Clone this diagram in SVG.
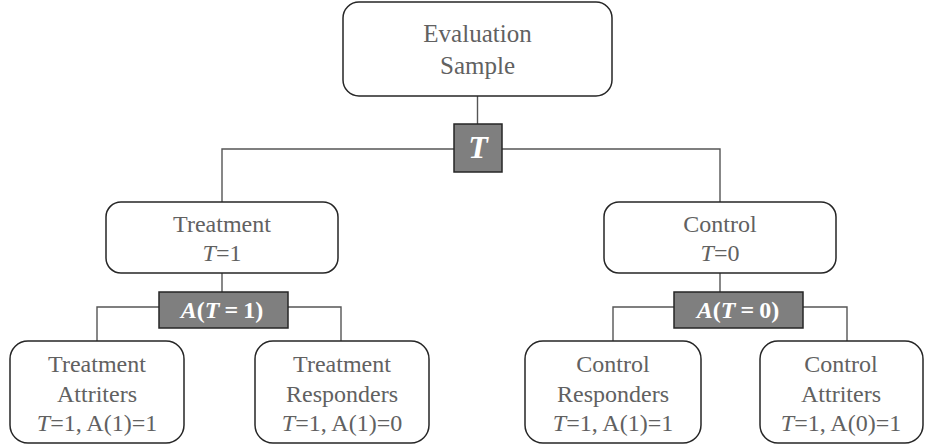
<svg xmlns="http://www.w3.org/2000/svg" width="925" height="448" viewBox="0 0 925 448">
<style>
.box{fill:#fff;stroke:#262626;stroke-width:1.5}
.gbox{fill:#7f7f7f;stroke:#262626;stroke-width:1.5}
.lbl{font-family:"Liberation Serif",serif;fill:#616161;text-anchor:middle;font-size:24px}
.big{font-size:25px}
.math{font-family:"Liberation Serif",serif;fill:#fff;font-weight:bold;text-anchor:middle}
.conn{fill:none;stroke:#555;stroke-width:1.4}
</style>
<rect width="925" height="448" fill="#fff"/>
<g id="connectors">
<path class="conn" d="M477.5 96V124"/>
<path class="conn" d="M222 202V149H454"/>
<path class="conn" d="M502 149H720V202"/>
<path class="conn" d="M222 273V292"/>
<path class="conn" d="M159 307H97V341"/>
<path class="conn" d="M288 307H341V341"/>
<path class="conn" d="M720 273V292"/>
<path class="conn" d="M674 307H613V341"/>
<path class="conn" d="M803 307H847V341"/>
</g>
<g id="evaluation-sample">
<rect class="box" x="343" y="2" width="269" height="94" rx="16"/>
<text class="lbl big" x="477.5" y="42">Evaluation</text>
<text class="lbl big" x="477.5" y="74">Sample</text>
</g>
<g id="t-node">
<rect class="gbox" x="454" y="124" width="48" height="48"/>
<text class="math" x="478" y="158" font-size="32" font-style="italic">T</text>
</g>
<g id="treatment">
<rect class="box" x="106" y="202" width="232" height="71" rx="15"/>
<text class="lbl" x="222" y="232">Treatment</text>
<text class="lbl" x="222" y="261"><tspan font-style="italic">T</tspan>=1</text>
</g>
<g id="control">
<rect class="box" x="604" y="202" width="232" height="71" rx="15"/>
<text class="lbl" x="720" y="232">Control</text>
<text class="lbl" x="720" y="261"><tspan font-style="italic">T</tspan>=0</text>
</g>
<g id="a-t1">
<rect class="gbox" x="159" y="292" width="129" height="36"/>
<text class="math" x="222" y="318" font-size="24"><tspan font-style="italic">A</tspan>(<tspan font-style="italic">T</tspan><tspan dx="5">=</tspan><tspan dx="5">1)</tspan></text>
</g>
<g id="a-t0">
<rect class="gbox" x="674" y="292" width="129" height="36"/>
<text class="math" x="738" y="318" font-size="24"><tspan font-style="italic">A</tspan>(<tspan font-style="italic">T</tspan><tspan dx="5">=</tspan><tspan dx="5">0)</tspan></text>
</g>
<g id="treatment-attriters">
<rect class="box" x="10" y="341" width="174" height="102" rx="18"/>
<text class="lbl" x="97" y="372">Treatment</text>
<text class="lbl" x="97" y="402">Attriters</text>
<text class="lbl" x="97" y="431"><tspan font-style="italic">T</tspan>=1, A(1)=1</text>
</g>
<g id="treatment-responders">
<rect class="box" x="255" y="341" width="174" height="102" rx="18"/>
<text class="lbl" x="342" y="372">Treatment</text>
<text class="lbl" x="342" y="402">Responders</text>
<text class="lbl" x="342" y="431"><tspan font-style="italic">T</tspan>=1, A(1)=0</text>
</g>
<g id="control-responders">
<rect class="box" x="525" y="341" width="176" height="102" rx="18"/>
<text class="lbl" x="613" y="372">Control</text>
<text class="lbl" x="613" y="402">Responders</text>
<text class="lbl" x="613" y="431"><tspan font-style="italic">T</tspan>=1, A(1)=1</text>
</g>
<g id="control-attriters">
<rect class="box" x="760" y="341" width="163" height="102" rx="18"/>
<text class="lbl" x="841" y="372">Control</text>
<text class="lbl" x="841" y="402">Attriters</text>
<text class="lbl" x="841" y="431"><tspan font-style="italic">T</tspan>=1, A(0)=1</text>
</g>
</svg>
